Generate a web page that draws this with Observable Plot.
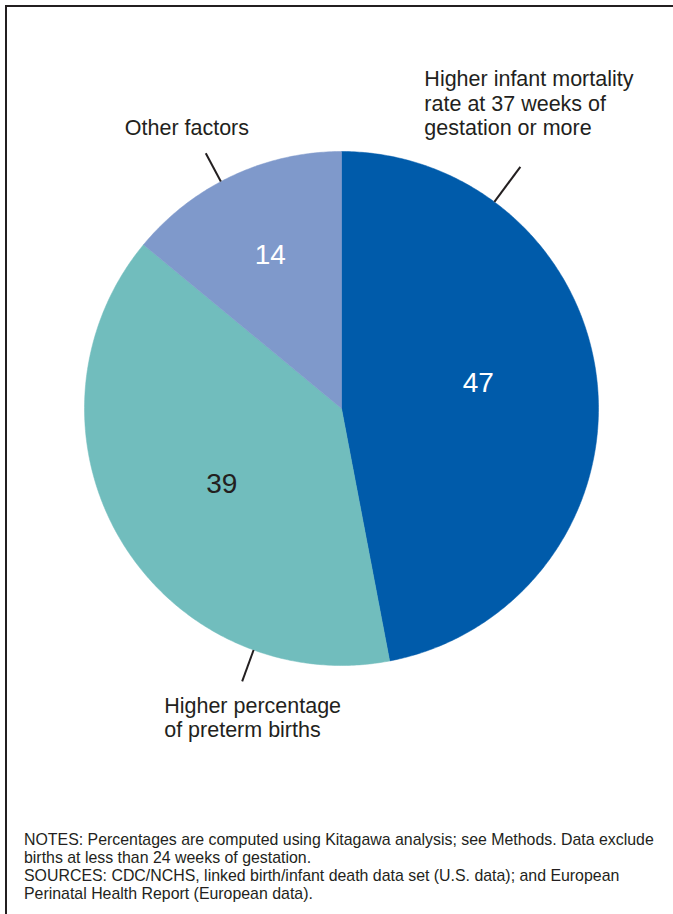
<!DOCTYPE html>
<html>
<head>
<meta charset="utf-8">
<script src="https://cdn.jsdelivr.net/npm/d3@7"></script>
<script src="https://cdn.jsdelivr.net/npm/@observablehq/plot@0.6"></script>
<style>
  html, body { margin: 0; padding: 0; background: #fff; }
  #wrap { position: relative; width: 673px; height: 914px; overflow: hidden; font-family: "Liberation Sans", Arial, sans-serif; }
  #frame { position: absolute; left: 5px; top: 5px; right: -10px; bottom: -10px; border-top: 2px solid #231f20; border-left: 2px solid #231f20; pointer-events: none; }
  #chart { position: absolute; left: 0; top: 0; }
  #notes { position: absolute; left: 24px; top: 831px; font-size: 15.9px; line-height: 18px; color: #231f20; white-space: nowrap; }
</style>
</head>
<body>
<div id="wrap">
  <div id="chart"></div>
  <div id="notes">
    NOTES: Percentages are computed using Kitagawa analysis; see Methods. Data exclude<br>
    births at less than 24 weeks of gestation.<br>
    SOURCES: CDC/NCHS, linked birth/infant death data set (U.S. data); and European<br>
    Perinatal Health Report (European data).
  </div>
  <div id="frame"></div>
</div>
<script>
// ---- data ----
const categories = [
  "Higher infant mortality rate at 37 weeks of gestation or more",
  "Higher percentage of preterm births",
  "Other factors"
];
const values = [47, 39, 14];
const labelLines = [
  "Higher infant mortality\nrate at 37 weeks of\ngestation or more",
  "Higher percentage\nof preterm births",
  "Other factors"
];
const colors = ["#005baa", "#71bdbd", "#7f99cb"];
const valueTextColors = ["#ffffff", "#231f20", "#ffffff"];

// ---- layout ----
const W = 673, H = 820;
const cx = 341, cy = 408, R = 257;
const valueRadius = [0.55, 0.55, 0.66];
const valueOffset = [[-4, -12], [2, 4], [1, 0]];
const leaderAngleDeg = [36.5, 200, 332];
const leaderOuter = [1.17, 1.13, 1.125];
const labelOffset = [[-96, -64], [-78, 36], [-81, -26]];

const total = d3.sum(values);
const slices = [];
let acc = 0;
values.forEach((v, i) => {
  const a0 = acc / total * 2 * Math.PI;
  acc += v;
  const a1 = acc / total * 2 * Math.PI;
  slices.push({i, cat: categories[i], value: v, a0, a1, mid: (a0 + a1) / 2});
});

// polygon points for each slice (unit circle, angle clockwise from top)
const polyPts = [];
slices.forEach(s => {
  polyPts.push({cat: s.cat, x: 0, y: 0});
  const n = Math.max(2, Math.ceil((s.a1 - s.a0) / 0.01));
  for (let k = 0; k <= n; k++) {
    const a = s.a0 + (s.a1 - s.a0) * k / n;
    polyPts.push({cat: s.cat, x: Math.sin(a), y: Math.cos(a)});
  }
  polyPts.push({cat: s.cat, x: 0, y: 0});
});

const valueLabels = slices.map(s => ({
  cat: s.cat,
  text: String(s.value),
  color: valueTextColors[s.i],
  x: valueRadius[s.i] * Math.sin(s.mid),
  y: valueRadius[s.i] * Math.cos(s.mid),
  dx: valueOffset[s.i][0], dy: valueOffset[s.i][1]
}));

const leaders = slices.map(s => {
  const a = leaderAngleDeg[s.i] * Math.PI / 180;
  return {
    x1: Math.sin(a), y1: Math.cos(a),
    x2: leaderOuter[s.i] * Math.sin(a), y2: leaderOuter[s.i] * Math.cos(a),
    text: labelLines[s.i], dx: labelOffset[s.i][0], dy: labelOffset[s.i][1]
  };
});

const plot = Plot.plot({
  width: W,
  height: H,
  margin: 0,
  x: {domain: [-cx / R, (W - cx) / R], axis: null},
  y: {domain: [-(H - cy) / R, cy / R], axis: null},
  color: {domain: categories, range: colors},
  style: {fontFamily: "'Liberation Sans', Arial, sans-serif", background: "transparent"},
  marks: [
    Plot.line(polyPts, {x: "x", y: "y", z: "cat", fill: "cat", stroke: "cat", strokeWidth: 0.5, curve: "linear"}),
    Plot.link(leaders, {x1: "x1", y1: "y1", x2: "x2", y2: "y2", stroke: "#231f20", strokeWidth: 2}),
    ...leaders.map(l => Plot.text([l], {
      x: "x2", y: "y2", text: "text", dx: l.dx, dy: l.dy,
      textAnchor: "start", lineAnchor: "middle", lineHeight: 1.14,
      fontSize: 21.5, fill: "#231f20"
    })),
    ...valueLabels.map(v => Plot.text([v], {
      x: "x", y: "y", text: "text", fill: "color", dx: v.dx, dy: v.dy,
      fontSize: 28, textAnchor: "middle", lineAnchor: "middle"
    }))
  ]
});
document.getElementById("chart").appendChild(plot);
</script>
</body>
</html>
